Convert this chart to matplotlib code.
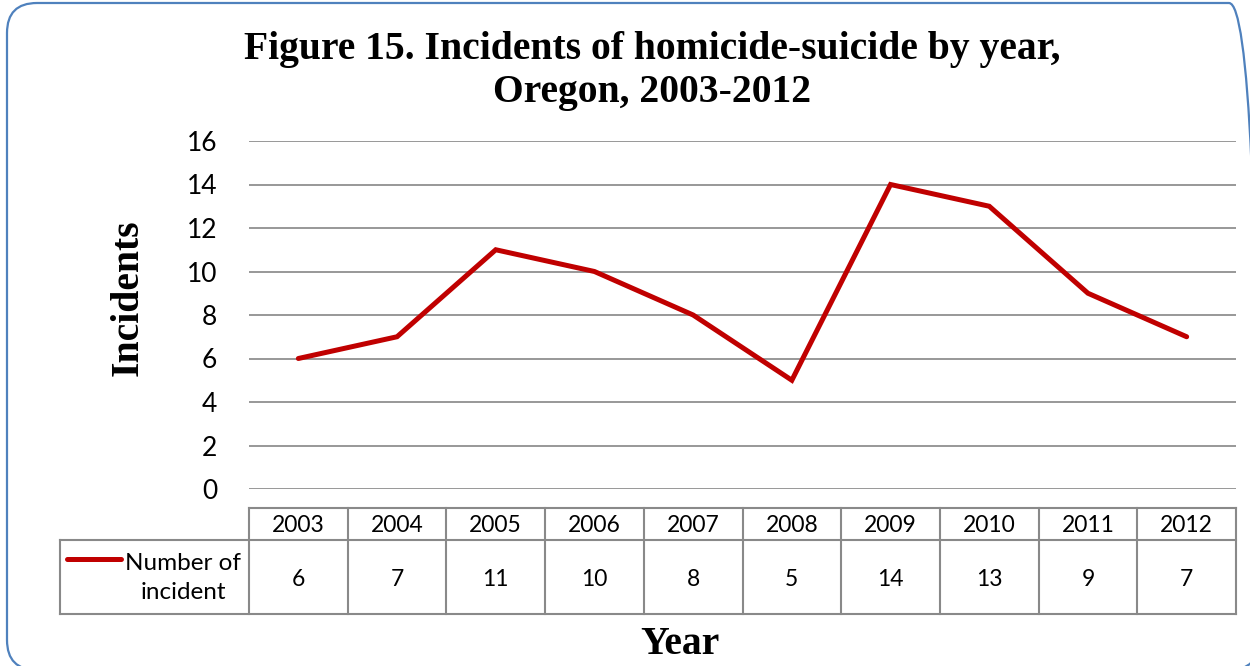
import matplotlib
matplotlib.use("Agg")
import matplotlib.pyplot as plt
from matplotlib.patches import FancyBboxPatch

# incidents of homicide-suicide per year
years = [2003, 2004, 2005, 2006, 2007, 2008, 2009, 2010, 2011, 2012]
incidents = [6, 7, 11, 10, 8, 5, 14, 13, 9, 7]
y_ticks = [0, 2, 4, 6, 8, 10, 12, 14, 16]
series_name = "Number of\nincident"
title = "Figure 15. Incidents of homicide-suicide by year,\nOregon, 2003-2012"

W, H = 1250, 666
RED = "#C00000"
GRID = "#868686"
SERIF = ["Liberation Serif", "DejaVu Serif"]
SANS = ["Lato", "DejaVu Sans"]

fig = plt.figure(figsize=(W / 100, H / 100), dpi=100)


def box(left, top, right, bottom):
    # pixel box (from top-left) -> figure fraction rect
    return [left / W, 1 - bottom / H, (right - left) / W, (bottom - top) / H]


# rounded chart frame (runs off the right and bottom edges)
frame = FancyBboxPatch((7 / 100, (H - 670) / 100), (1259 - 7) / 100, (670 - 3) / 100,
                       boxstyle="round,pad=0,rounding_size=0.3",
                       transform=fig.dpi_scale_trans, facecolor="none",
                       edgecolor="#4F81BD", linewidth=1.6, zorder=0)
fig.patches.append(frame)

ax = fig.add_axes(box(249, 141, 1236, 489))
ax.patch.set_alpha(0)
x = list(range(len(years)))
ax.plot(x, incidents, color=RED, lw=3.6, solid_joinstyle="miter",
        solid_capstyle="round", zorder=3)
ax.set_xlim(-0.5, len(years) - 0.5)
ax.set_ylim(0, 16)
ax.set_yticks(y_ticks)
ax.set_xticks([])
ax.yaxis.grid(True, color=GRID, lw=1.2)
ax.set_axisbelow(True)
for s in ax.spines.values():
    s.set_visible(False)
ax.tick_params(axis="y", length=0, pad=23, labelsize=19)
for lab in ax.get_yticklabels():
    lab.set_family(SANS)

# data table under the plot, sharing the x scale
tab = fig.add_axes(box(249, 508, 1236, 614))
tab.set_xlim(-0.5, len(years) - 0.5)
tab.set_ylim(0, 106)
tab.axis("off")
col_w = 987 / len(years)


def px(p):
    return (p - 249) / col_w - 0.5


leg_left = px(60)
lc = dict(color="#898989", lw=1.5, clip_on=False, solid_capstyle="projecting")
tab.plot([-0.5, len(years) - 0.5], [106, 106], **lc)
tab.plot([leg_left, len(years) - 0.5], [74, 74], **lc)
tab.plot([leg_left, len(years) - 0.5], [0, 0], **lc)
tab.plot([leg_left, leg_left], [0, 74], **lc)
for i in range(len(years) + 1):
    tab.plot([i - 0.5, i - 0.5], [0, 106], **lc)
for i, (yr, v) in enumerate(zip(years, incidents)):
    tab.text(i, 88, str(yr), ha="center", va="center", fontsize=16.5, family=SANS)
    tab.text(i, 35, str(v), ha="center", va="center", fontsize=16.5, family=SANS)

tab.plot([px(67), px(121)], [55, 55], color=RED, lw=3.6, solid_capstyle="round", clip_on=False)
tab.text(px(183), 36, series_name, ha="center", va="center", fontsize=17.5,
         family=SANS, linespacing=1.5)

fig.text(652 / W, 1 - 71 / H, title, ha="center", va="center", fontsize=28.5,
         fontweight="bold", family=SERIF, linespacing=1.22)
fig.text(128 / W, 1 - 298 / H, "Incidents", rotation=90, ha="center", va="center",
         fontsize=28.5, fontweight="bold", family=SERIF)
fig.text(680 / W, 1 - 645 / H, "Year", ha="center", va="center", fontsize=28.5,
         fontweight="bold", family=SERIF)

fig.savefig("out.png", dpi=100)
